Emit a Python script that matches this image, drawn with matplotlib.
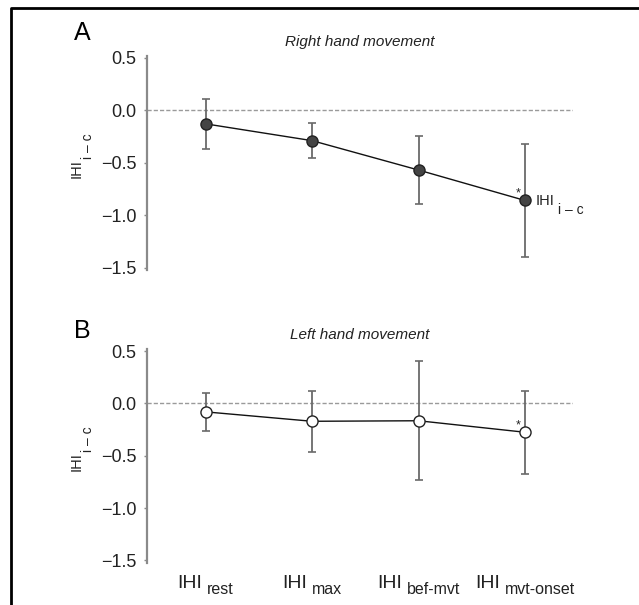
import matplotlib
matplotlib.use("Agg")
import matplotlib.pyplot as plt  # plotting
from matplotlib.lines import Line2D  # frame lines
from matplotlib.transforms import IdentityTransform  # pixel placement

# Arial look-alike everywhere
plt.rcParams['font.family'] = ['Liberation Sans', 'DejaVu Sans']

# Data
conditions = ['rest', 'max', 'bef-mvt', 'mvt-onset']
right_means = [-0.13, -0.29, -0.57, -0.86]
right_sem = [0.235, 0.165, 0.32, 0.535]
left_means = [-0.08, -0.17, -0.165, -0.275]
left_sem = [0.18, 0.29, 0.57, 0.395]
yticks = [0.5, 0.0, -0.5, -1.0, -1.5]
ytick_labels = ['0.5', '0.0', '\u22120.5', '\u22121.0', '\u22121.5']
sub_ic = 'i \u2013 c'

W, H = 639, 605
TXT = '#222222'
fig = plt.figure(figsize=(W / 100, H / 100), dpi=100)
renderer = fig.canvas.get_renderer()


def px_rect(left, top, right, bottom):
    # convert a pixel box (from top-left) to figure fractions
    return [left / W, 1 - bottom / H, (right - left) / W, (bottom - top) / H]


def text_width(s, fs):
    t = fig.text(0, 0, s, fontsize=fs)
    w = t.get_window_extent(renderer=renderer).width
    t.remove()
    return w


def ihi_text(x, y, sub, fs_main, fs_sub, gap, drop, rot=0, center=False):
    # "IHI" with a subscript, placed in display pixels (x, y from bottom-left)
    w_main = text_width('IHI', fs_main)
    kw = dict(transform=IdentityTransform(), color=TXT, ha='left', va='baseline',
              rotation=rot, rotation_mode='anchor')
    if rot == 0:
        if center:
            x = x - (w_main + gap + text_width(sub, fs_sub)) / 2
        fig.text(x, y, 'IHI', fontsize=fs_main, **kw)
        fig.text(x + w_main + gap, y - drop, sub, fontsize=fs_sub, **kw)
    else:
        fig.text(x, y, 'IHI', fontsize=fs_main, **kw)
        fig.text(x + drop, y + w_main + gap, sub, fontsize=fs_sub, **kw)


def draw_panel(ax, means, sem, face, title, letter, letter_y):
    x = list(range(len(means)))
    ax.axhline(0, color='#9a9a9a', lw=1.0, ls=(0, (3, 1.5)), zorder=1)
    ax.errorbar(x, means, yerr=sem, fmt='none', ecolor='#6a6a6a',
                elinewidth=1.3, capsize=3, capthick=1.2, zorder=2)
    ax.plot(x, means, color='#111111', lw=1.0, zorder=3)
    ax.plot(x, means, 'o', ms=8, mfc=face, mec='#222222', mew=1.0, zorder=4)

    ax.set_xlim(-0.55, 3.45)
    ax.set_ylim(-1.52, 0.52)
    ax.set_yticks(yticks)
    ax.set_yticklabels(ytick_labels, fontsize=13, color=TXT)
    ax.set_xticks([])
    for side in ['top', 'right', 'bottom']:
        ax.spines[side].set_visible(False)
    ax.spines['left'].set_color('#8a8a8a')
    ax.spines['left'].set_linewidth(1.6)
    ax.tick_params(axis='y', length=2.5, width=1, color='#8a8a8a', pad=5)

    # title in italic
    ax.text(0.5, 1.064, title, transform=ax.transAxes, ha='center', va='center',
            fontsize=11, style='italic', color=TXT)
    # panel letter
    fig.text(82 / W, 1 - letter_y / H, letter, ha='center', va='center',
             fontsize=18, color='black')
    # significance star on last point
    ax.annotate('*', (3, means[3]), xytext=(-5, 5), textcoords='offset points',
                ha='center', va='center', fontsize=9, color=TXT)

    # rotated y label IHI_i-c
    y0 = ax.transData.transform((0, -0.65))[1]
    ihi_text(81, y0, sub_ic, 10.5, 10, 1, 11, rot=90)


ax_a = fig.add_axes(px_rect(147, 55.6, 573, 269.8))
draw_panel(ax_a, right_means, right_sem, '#444444', 'Right hand movement', 'A', 33)

ax_b = fig.add_axes(px_rect(147, 349.1, 573, 562.5))
draw_panel(ax_b, left_means, left_sem, 'white', 'Left hand movement', 'B', 331)

# label next to the last point of panel A
px, py = ax_a.transData.transform((3, right_means[3]))
ihi_text(px + 11, py - 5, sub_ic, 10.5, 10, 3, 9)

# category labels under panel B
for i, cond in enumerate(conditions):
    cx = ax_b.transData.transform((i, 0))[0]
    ihi_text(cx, H - 588, cond, 14, 11.5, 5, 6.5, center=True)

# black frame clipped at right and bottom
fig.add_artist(Line2D([11 / W, 11 / W, 1.0], [0.0, 1 - 8 / H, 1 - 8 / H],
                      transform=fig.transFigure, color='black', lw=2))

fig.savefig('out.png', dpi=100)
